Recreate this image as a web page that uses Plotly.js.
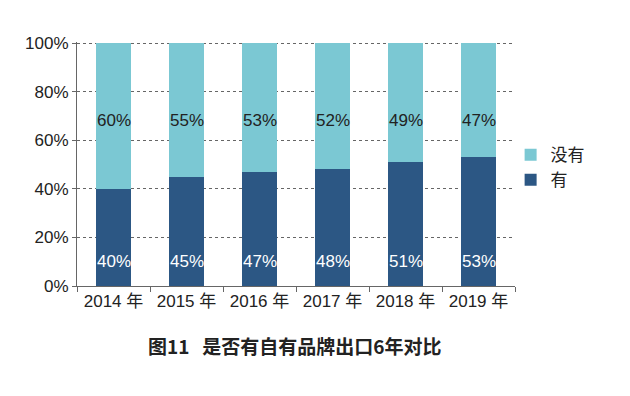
<!DOCTYPE html>
<html>
<head>
<meta charset="utf-8">
<script src="https://cdn.plot.ly/plotly-3.0.1.min.js"></script>
<style>html,body{margin:0;padding:0;background:#fff;}#chart{width:630px;height:396px;}</style>
</head>
<body>
<div id="chart"></div>
<script>
const categories = ['2014 年', '2015 年', '2016 年', '2017 年', '2018 年', '2019 年'];
const haveValues = [40, 45, 47, 48, 51, 53];
const noValues = [60, 55, 53, 52, 49, 47];
const seriesNames = ['有', '没有'];
const yTickValues = [0, 20, 40, 60, 80, 100];
const yTickLabels = ['0%', '20%', '40%', '60%', '80%', '100%'];
const chartTitle = '图11&nbsp;&nbsp; 是否有自有品牌出口6年对比';

const darkBlue = '#2c5784';
const lightTeal = '#7bc8d3';
const font = 'Liberation Sans, Arial, Noto Sans CJK SC, sans-serif';

const traces = [
  {type: 'bar', name: seriesNames[0], x: categories, y: haveValues,
   marker: {color: darkBlue}, width: 0.49, hoverinfo: 'none'},
  {type: 'bar', name: seriesNames[1], x: categories, y: noValues,
   marker: {color: lightTeal}, width: 0.49, hoverinfo: 'none'}
];

const annotations = [];
categories.forEach((c, i) => {
  annotations.push({x: c, y: 10, xref: 'x', yref: 'y', text: haveValues[i] + '%',
    showarrow: false, font: {family: font, size: 17, color: '#ffffff'}});
  annotations.push({x: c, y: 68.3, xref: 'x', yref: 'y', text: noValues[i] + '%',
    showarrow: false, font: {family: font, size: 17, color: '#222222'}});
});
annotations.push({x: 0.498, y: -0.243, xref: 'paper', yref: 'paper', xanchor: 'center', yanchor: 'middle',
  text: '<b>' + chartTitle + '</b>',
  showarrow: false, font: {family: 'Noto Sans CJK SC, sans-serif', size: 19, color: '#222'}});

const layout = {
  width: 630, height: 396,
  margin: {l: 77, r: 115, t: 42, b: 110},
  paper_bgcolor: '#ffffff', plot_bgcolor: '#ffffff',
  barmode: 'stack',
  showlegend: true,
  legend: {x: 0.99, xanchor: 'left', y: 0.61, yanchor: 'top', traceorder: 'reversed',
    font: {family: 'Noto Sans CJK SC, sans-serif', size: 17, color: '#222'},
    itemwidth: 30, tracegroupgap: 0, bgcolor: 'rgba(0,0,0,0)'},
  xaxis: {type: 'category', showline: true, linecolor: '#666', linewidth: 1,
    ticks: 'outside', tickson: 'boundaries', ticklen: 5, tickcolor: '#666',
    tickfont: {family: font, size: 17, color: '#222'}, showgrid: false, zeroline: false},
  yaxis: {range: [0, 100.5], tickvals: yTickValues, ticktext: yTickLabels,
    showline: true, linecolor: '#666', linewidth: 1, ticks: 'outside', ticklen: 4, tickcolor: '#666',
    tickfont: {family: font, size: 17, color: '#222'},
    showgrid: true, gridcolor: '#666', griddash: 'dot', gridwidth: 1, zeroline: false},
  annotations: annotations
};

Plotly.newPlot('chart', traces, layout, {displayModeBar: false, staticPlot: true});
</script>
</body>
</html>
